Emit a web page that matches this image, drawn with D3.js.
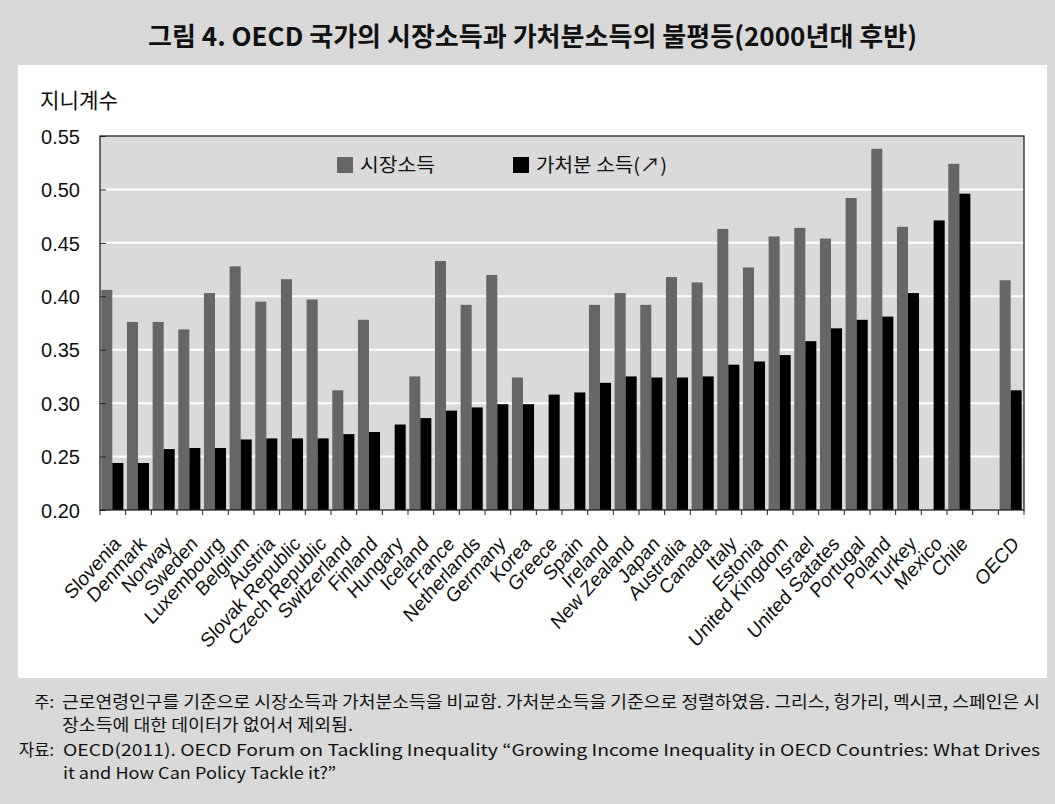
<!DOCTYPE html>
<html>
<head>
<meta charset="utf-8">
<script src="https://cdn.jsdelivr.net/npm/d3@7"></script>
<style>
  html, body { margin: 0; padding: 0; background: #d9d9d9; }
  svg { display: block; }
  .kr { font-family: "Noto Sans CJK KR", "Noto Sans", sans-serif; }
  .lat { font-family: "Liberation Sans", Arial, sans-serif; }
</style>
</head>
<body>
<div id="chart"></div>
<script>
// --- Data (Gini coefficients, late 2000s) ---
const countries = ["Slovenia", "Denmark", "Norway", "Sweden", "Luxembourg", "Belgium", "Austria",
  "Slovak Republic", "Czech Republic", "Switzerland", "Finland", "Hungary", "Iceland", "France",
  "Netherlands", "Germany", "Korea", "Greece", "Spain", "Ireland", "New Zealand", "Japan",
  "Australia", "Canada", "Italy", "Estonia", "United Kingdom", "Israel", "United Satates",
  "Portugal", "Poland", "Turkey", "Mexico", "Chile", "", "OECD"];

// 시장소득 (market income); null = no data
const marketIncome = [0.406, 0.376, 0.376, 0.369, 0.403, 0.428, 0.395,
  0.416, 0.397, 0.312, 0.378, null, 0.325, 0.433,
  0.392, 0.420, 0.324, null, null, 0.392, 0.403, 0.392,
  0.418, 0.413, 0.463, 0.427, 0.456, 0.464, 0.454,
  0.492, 0.538, 0.465, null, 0.524, null, 0.415];

// 가처분 소득 (disposable income)
const disposableIncome = [0.244, 0.244, 0.257, 0.258, 0.258, 0.266, 0.267,
  0.267, 0.267, 0.271, 0.273, 0.280, 0.286, 0.293,
  0.296, 0.299, 0.299, 0.308, 0.310, 0.319, 0.325, 0.324,
  0.324, 0.325, 0.336, 0.339, 0.345, 0.358, 0.370,
  0.378, 0.381, 0.403, 0.471, 0.496, null, 0.312];

const yTicks = [0.20, 0.25, 0.30, 0.35, 0.40, 0.45, 0.50, 0.55];
const seriesNames = ["시장소득", "가처분 소득(↗)"];

const titleText = "그림 4. OECD 국가의 시장소득과 가처분소득의 불평등(2000년대 후반)";
const noteLines = [
  "근로연령인구를 기준으로 시장소득과 가처분소득을 비교함. 가처분소득을 기준으로 정렬하였음. 그리스, 헝가리, 멕시코, 스페인은 시",
  "장소득에 대한 데이터가 없어서 제외됨."
];
const sourceLines = [
  "OECD(2011). OECD Forum on Tackling Inequality “Growing Income Inequality in OECD Countries: What Drives",
  "it and How Can Policy Tackle it?”"
];

const width = 1055, height = 804;
const margin = { left: 100, right: 1024, top: 136, bottom: 510 };
const colors = { market: "#666666", disposable: "#000000", frame: "#d9d9d9", plot: "#dadada" };

const svg = d3.select("#chart").append("svg")
  .attr("width", width)
  .attr("height", height)
  .attr("viewBox", `0 0 ${width} ${height}`);

// --- Frame: gray background with white panel ---
svg.append("rect").attr("width", width).attr("height", height).attr("fill", colors.frame);
svg.append("rect")
  .attr("x", 18).attr("y", 65)
  .attr("width", 1029).attr("height", 613)
  .attr("fill", "#ffffff");

// --- Title ---
svg.append("text")
  .attr("class", "kr")
  .attr("x", 148).attr("y", 46)
  .attr("font-size", 26).attr("font-weight", 700)
  .attr("textLength", 769).attr("lengthAdjust", "spacingAndGlyphs")
  .attr("fill", "#111")
  .text(titleText);

// --- Scales ---
const x0 = d3.scaleBand()
  .domain(d3.range(countries.length))
  .range([margin.left, margin.right]);

const bw = x0.bandwidth();
const x1 = d3.scaleBand()
  .domain(["market", "disposable"])
  .range([bw * 0.05, bw * 0.91]);

const y = d3.scaleLinear()
  .domain([0.20, 0.55])
  .range([margin.bottom, margin.top]);

// --- Plot background & grid ---
svg.append("rect")
  .attr("x", margin.left).attr("y", margin.top)
  .attr("width", margin.right - margin.left)
  .attr("height", margin.bottom - margin.top)
  .attr("fill", colors.plot);

svg.append("g")
  .selectAll("line")
  .data(yTicks.filter(t => t > 0.2 && t < 0.55))
  .join("line")
  .attr("x1", margin.left).attr("x2", margin.right)
  .attr("y1", d => y(d)).attr("y2", d => y(d))
  .attr("stroke", "#ffffff")
  .attr("stroke-width", 2);

// --- Bars ---
const rows = countries.map((c, i) => ({ i, market: marketIncome[i], disposable: disposableIncome[i] }));

const groups = svg.append("g")
  .selectAll("g")
  .data(rows)
  .join("g")
  .attr("transform", d => `translate(${x0(d.i)},0)`);

groups.selectAll("rect")
  .data(d => ["market", "disposable"].filter(k => d[k] != null).map(k => ({ key: k, value: d[k] })))
  .join("rect")
  .attr("x", d => x1(d.key))
  .attr("width", x1.bandwidth())
  .attr("y", d => y(d.value))
  .attr("height", d => y(0.20) - y(d.value))
  .attr("fill", d => colors[d.key]);

// --- Axes ---
const yAxis = d3.axisLeft(y)
  .tickValues(yTicks)
  .tickSize(-6)
  .tickPadding(20)
  .tickFormat(d3.format(".2f"));

const gy = svg.append("g")
  .attr("transform", `translate(${margin.left},0)`)
  .call(yAxis);
gy.select(".domain").remove();
gy.selectAll("line").attr("stroke", "#222");
gy.selectAll("text")
  .attr("class", "lat")
  .attr("font-size", 20)
  .attr("fill", "#111")
  .attr("x", -20)
  .attr("dy", "0.36em");

// x ticks at band boundaries
const tickPos = d3.range(countries.length + 1).map(i => margin.left + i * bw);
svg.append("g")
  .selectAll("line")
  .data(tickPos)
  .join("line")
  .attr("x1", d => d).attr("x2", d => d)
  .attr("y1", margin.bottom).attr("y2", margin.bottom + 5)
  .attr("stroke", "#222");

// plot border
svg.append("rect")
  .attr("x", margin.left).attr("y", margin.top)
  .attr("width", margin.right - margin.left)
  .attr("height", margin.bottom - margin.top)
  .attr("fill", "none")
  .attr("stroke", "#222")
  .attr("stroke-width", 1.3);

// rotated category labels (slightly narrow, like the source)
svg.append("g")
  .selectAll("text")
  .data(rows.filter(d => countries[d.i] !== ""))
  .join("text")
  .attr("class", "lat")
  .attr("font-size", 20.5)
  .attr("fill", "#111")
  .attr("text-anchor", "end")
  .attr("transform", d => `translate(${x0(d.i) + bw / 2 + 9},${margin.bottom + 35}) scale(0.9,1) rotate(-45)`)
  .text(d => countries[d.i]);

// --- Y axis title ---
svg.append("text")
  .attr("class", "kr")
  .attr("x", 40).attr("y", 108)
  .attr("font-size", 21)
  .attr("textLength", 78).attr("lengthAdjust", "spacingAndGlyphs")
  .attr("fill", "#111")
  .text("지니계수");

// --- Legend ---
const legendItems = [
  { key: "market", label: seriesNames[0], x: 337, w: 75 },
  { key: "disposable", label: seriesNames[1], x: 513, w: 131 }
];
const legend = svg.append("g")
  .selectAll("g")
  .data(legendItems)
  .join("g")
  .attr("transform", d => `translate(${d.x},157)`);
legend.append("rect")
  .attr("width", 16).attr("height", 16)
  .attr("fill", d => colors[d.key]);
legend.append("text")
  .attr("class", "kr")
  .attr("x", 23).attr("y", 15)
  .attr("font-size", 19)
  .attr("textLength", d => d.w).attr("lengthAdjust", "spacingAndGlyphs")
  .attr("fill", "#111")
  .text(d => d.label);

// --- Notes ---
const notes = svg.append("g").attr("class", "kr").attr("font-size", 16.5).attr("fill", "#111");
notes.append("text").attr("x", 54).attr("y", 708).attr("text-anchor", "end").text("주:");
notes.append("text").attr("x", 62).attr("y", 708)
  .attr("textLength", 978).attr("lengthAdjust", "spacingAndGlyphs").text(noteLines[0]);
notes.append("text").attr("x", 62).attr("y", 731)
  .attr("textLength", 291).attr("lengthAdjust", "spacingAndGlyphs").text(noteLines[1]);
notes.append("text").attr("x", 54).attr("y", 756).attr("text-anchor", "end").text("자료:");
notes.append("text").attr("x", 63).attr("y", 756)
  .attr("textLength", 977).attr("lengthAdjust", "spacingAndGlyphs").text(sourceLines[0]);
notes.append("text").attr("x", 63).attr("y", 779)
  .attr("textLength", 273).attr("lengthAdjust", "spacingAndGlyphs").text(sourceLines[1]);
</script>
</body>
</html>
